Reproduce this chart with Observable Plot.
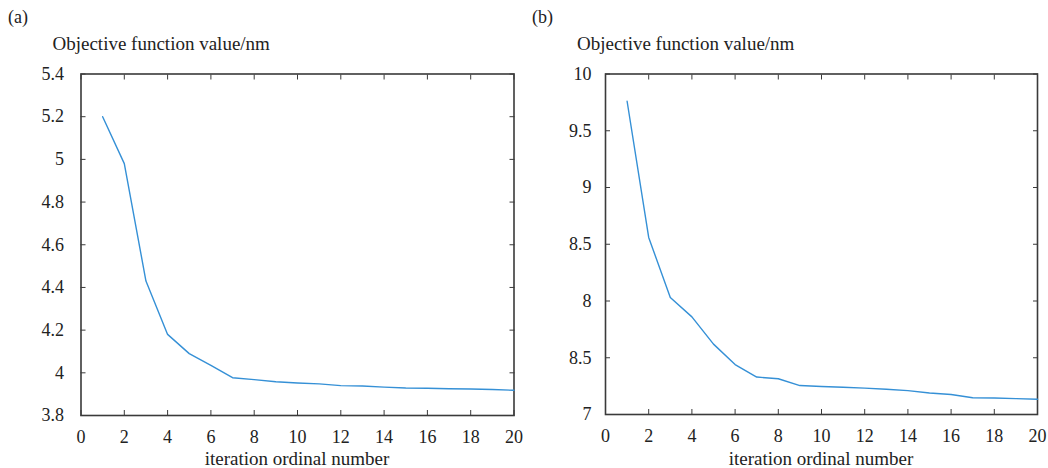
<!DOCTYPE html>
<html>
<head>
<meta charset="utf-8">
<script src="https://cdn.jsdelivr.net/npm/d3@7"></script>
<script src="https://cdn.jsdelivr.net/npm/@observablehq/plot@0.6"></script>
<style>
  html, body { margin: 0; padding: 0; background: #fff; }
  #page { position: relative; width: 1048px; height: 468px; font-family: "Liberation Serif", "DejaVu Serif", serif; color: #222; }
  .panel { position: absolute; top: 0; }
  .panel svg, .panel svg text { font-family: "Liberation Serif", "DejaVu Serif", serif !important; }
  .lbl { position: absolute; white-space: nowrap; font-size: 19px; line-height: 1; }
  .tag { font-size: 18px; }
</style>
</head>
<body>
<div id="page"></div>
<script>
// Iteration index shared by both runs
const iterations = [1, 2, 3, 4, 5, 6, 7, 8, 9, 10, 11, 12, 13, 14, 15, 16, 17, 18, 19, 20];

// Objective function value (nm) per iteration, run (a)
const valuesA = [5.20, 4.98, 4.43, 4.18, 4.09, 4.035, 3.977, 3.968, 3.958, 3.952,
                 3.948, 3.940, 3.938, 3.933, 3.929, 3.928, 3.925, 3.924, 3.922, 3.918];

// Objective function value (nm) per iteration, run (b)
const valuesB = [9.76, 8.56, 8.03, 7.86, 7.62, 7.44, 7.33, 7.315, 7.255, 7.247,
                 7.240, 7.232, 7.222, 7.210, 7.190, 7.176, 7.147, 7.145, 7.140, 7.135];

// Axis ticks and their printed labels
const xTicks = [0, 2, 4, 6, 8, 10, 12, 14, 16, 18, 20];
const yTicksA = [3.8, 4, 4.2, 4.4, 4.6, 4.8, 5, 5.2, 5.4];
const yLabelsA = ["3.8", "4", "4.2", "4.4", "4.6", "4.8", "5", "5.2", "5.4"];
const yTicksB = [7, 7.5, 8, 8.5, 9, 9.5, 10];
const yLabelsB = ["7", "8.5", "8", "8.5", "9", "9.5", "10"];

const panels = [
  {tag: "(a)", values: valuesA, yDomain: [3.8, 5.4], yTicks: yTicksA, yLabels: yLabelsA, left: 0, marginLeft: 80.5, marginRight: 10.5, marginBottom: 53, yPad: 22},
  {tag: "(b)", values: valuesB, yDomain: [7, 10], yTicks: yTicksB, yLabels: yLabelsB, left: 524, marginLeft: 81, marginRight: 11, marginBottom: 54, yPad: 19}
];

const page = document.getElementById("page");
const lineColor = "#3590d6";
const frameColor = "#3a3a3a";
const serif = "'Liberation Serif', 'DejaVu Serif', serif";

for (const p of panels) {
  const data = iterations.map((it, i) => ({it, v: p.values[i]}));
  const labelOf = new Map(p.yTicks.map((t, i) => [t, p.yLabels[i]]));

  const chart = Plot.plot({
    width: 524,
    height: 468,
    marginLeft: p.marginLeft,
    marginRight: p.marginRight,
    marginTop: 73.5,
    marginBottom: p.marginBottom,
    style: {fontFamily: serif, fontSize: "18px", color: "#222", background: "transparent", overflow: "visible"},
    x: {domain: [0, 20]},
    y: {domain: p.yDomain},
    marks: [
      Plot.axisX({ticks: xTicks, tickSize: -5, tickPadding: 20, stroke: frameColor, label: null, fill: "#222"}),
      Plot.axisX({anchor: "top", ticks: xTicks, tickSize: -5, tickFormat: () => "", stroke: frameColor, label: null}),
      Plot.axisY({ticks: p.yTicks, tickSize: -5, tickPadding: p.yPad, tickFormat: (d) => labelOf.get(d), stroke: frameColor, label: null, fill: "#222"}),
      Plot.axisY({anchor: "right", ticks: p.yTicks, tickSize: -5, tickFormat: () => "", stroke: frameColor, label: null}),
      Plot.frame({stroke: frameColor, strokeWidth: 1.6}),
      Plot.line(data, {x: "it", y: "v", stroke: lineColor, strokeWidth: 1.4})
    ]
  });

  const wrap = document.createElement("div");
  wrap.className = "panel";
  wrap.style.left = p.left + "px";
  wrap.appendChild(chart);
  page.appendChild(wrap);

  const tag = document.createElement("div");
  tag.className = "lbl tag";
  tag.textContent = p.tag;
  tag.style.left = (p.left + 8) + "px";
  tag.style.top = "8px";
  page.appendChild(tag);

  const title = document.createElement("div");
  title.className = "lbl";
  title.textContent = "Objective function value/nm";
  title.style.left = (p.left + p.marginLeft - 28) + "px";
  title.style.top = "34px";
  page.appendChild(title);

  const plotLeft = p.left + p.marginLeft;
  const plotRight = p.left + 524 - p.marginRight;
  const xl = document.createElement("div");
  xl.className = "lbl";
  xl.textContent = "iteration ordinal number";
  xl.style.left = ((plotLeft + plotRight) / 2) + "px";
  xl.style.transform = "translateX(-50%)";
  xl.style.top = "449px";
  page.appendChild(xl);
}
</script>
</body>
</html>
